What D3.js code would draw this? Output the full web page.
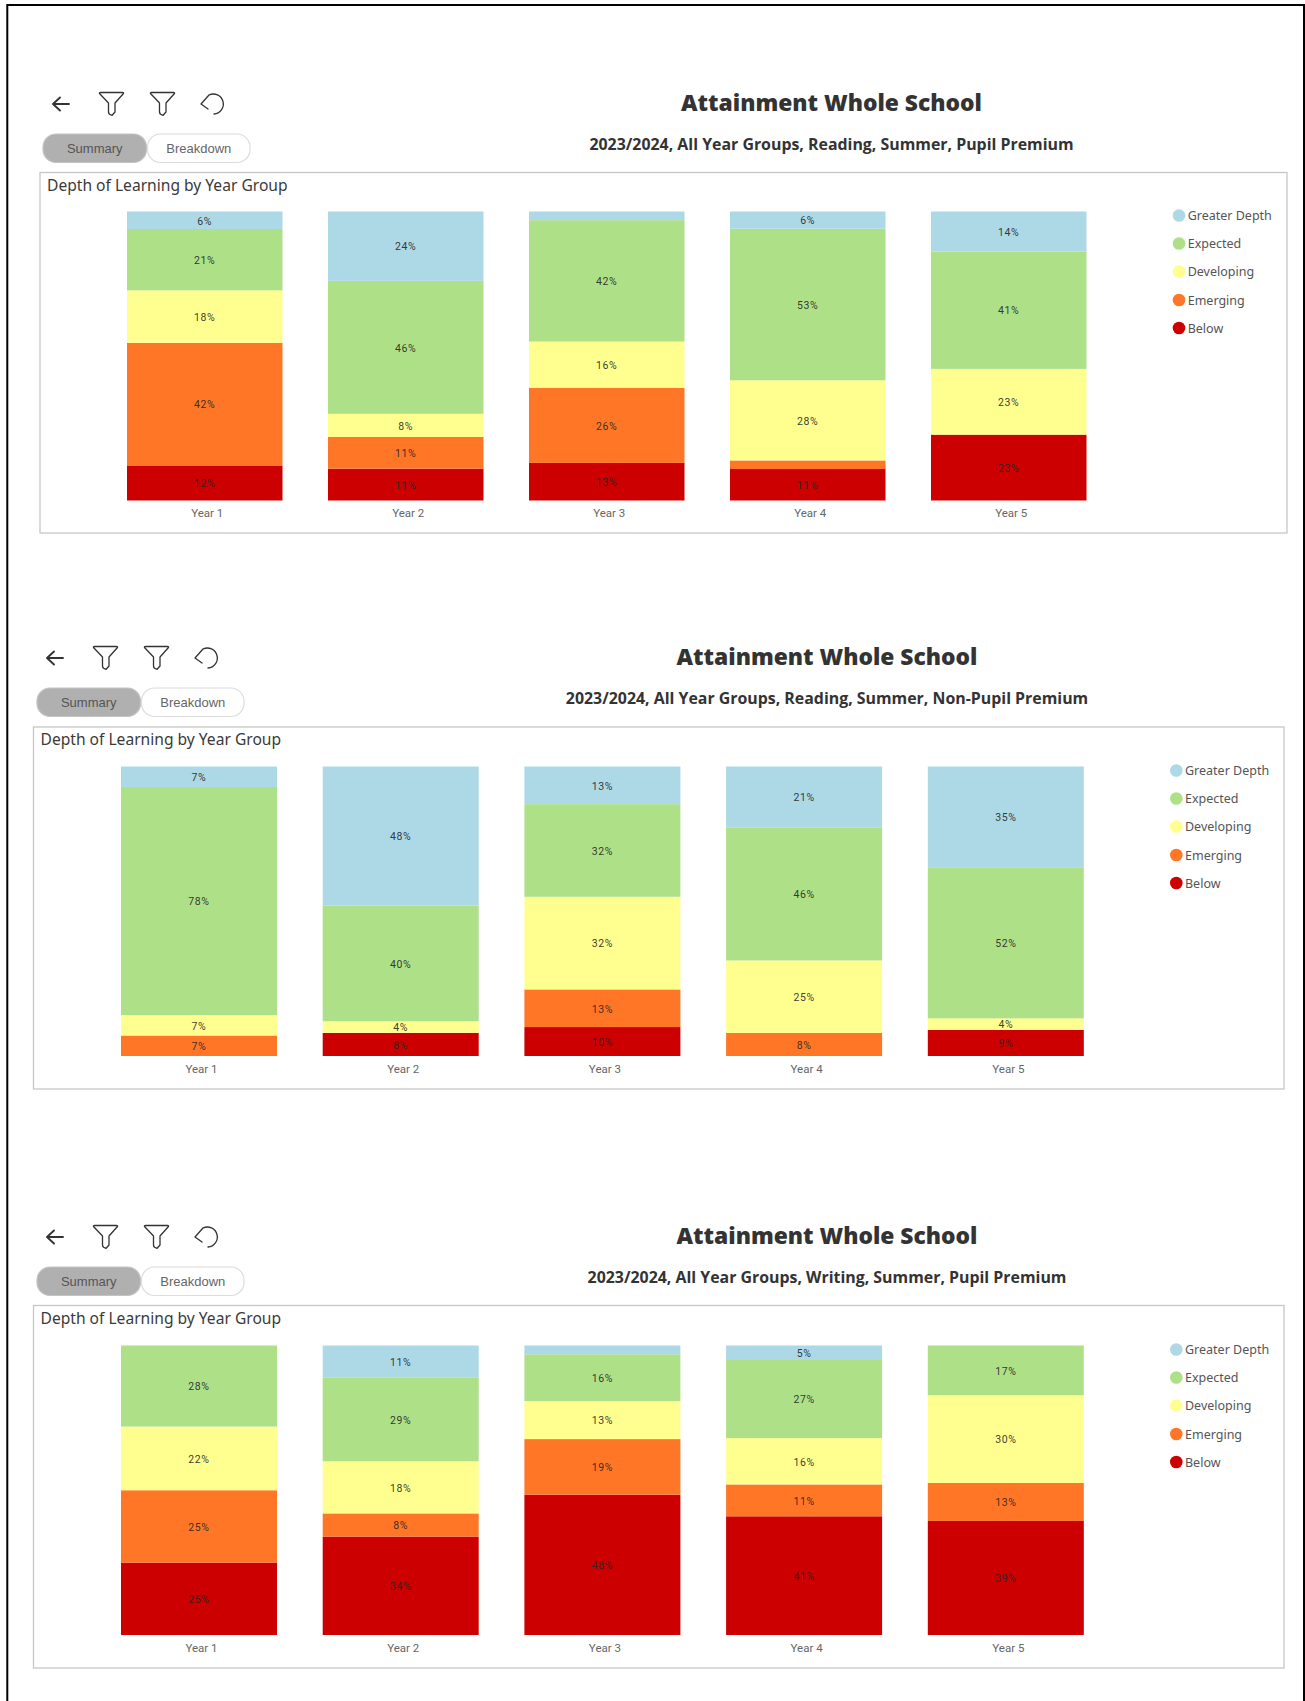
<!DOCTYPE html>
<html lang="en">
<head>
<meta charset="utf-8">
<title>Attainment Whole School</title>
<script src="https://cdn.jsdelivr.net/npm/d3@7"></script>
<style>
  html, body { margin: 0; padding: 0; background: #fff; }
  svg { display: block; }
  .axis path, .axis line { display: none; }
</style>
</head>
<body>
<div id="report"></div>
<script>
// Shared categories and levels
const yearGroups = ["Year 1", "Year 2", "Year 3", "Year 4", "Year 5"];
const levels = ["Greater Depth", "Expected", "Developing", "Emerging", "Below"];
const levelColours = ["#ADD8E6", "#AEE088", "#FFFF8F", "#FF7726", "#CC0000"];

// Percentages per level, one entry per year group
const readingPupilPremium = {
  "Greater Depth": [6, 24, 3, 6, 14],
  "Expected": [21, 46, 42, 53, 41],
  "Developing": [18, 8, 16, 28, 23],
  "Emerging": [42, 11, 26, 3, 0],
  "Below": [12, 11, 13, 11, 23]
};
const readingNonPupilPremium = {
  "Greater Depth": [7, 48, 13, 21, 35],
  "Expected": [78, 40, 32, 46, 52],
  "Developing": [7, 4, 32, 25, 4],
  "Emerging": [7, 0, 13, 8, 0],
  "Below": [0, 8, 10, 0, 9]
};
const writingPupilPremium = {
  "Greater Depth": [0, 11, 3, 5, 0],
  "Expected": [28, 29, 16, 27, 17],
  "Developing": [22, 18, 13, 16, 30],
  "Emerging": [25, 8, 19, 11, 13],
  "Below": [25, 34, 48, 41, 39]
};

const reportTitle = "Attainment Whole School";
const chartTitle = "Depth of Learning by Year Group";
const subtitles = [
  "2023/2024, All Year Groups, Reading, Summer, Pupil Premium",
  "2023/2024, All Year Groups, Reading, Summer, Non-Pupil Premium",
  "2023/2024, All Year Groups, Writing, Summer, Pupil Premium"
];
const tabLabels = ["Summary", "Breakdown"];
const smallestLabelled = 4;

// Page layout of each report section
const sections = [
  { rows: readingPupilPremium, frame: [40, 172.5, 1287, 533], barLeft: 127, barTop: 211.5, barHeight: 289, barSpan: 959.5, barGap: 45.5 / 201, centre: 831.5, originY: 0, dx: 6, legendX: 1179 },
  { rows: readingNonPupilPremium, frame: [33.5, 727, 1284, 1089], barLeft: 121, barTop: 766.5, barHeight: 289.5, barSpan: 962.8, barGap: 45.7 / 201.7, centre: 827, originY: 554, dx: 0, legendX: 1176.3 },
  { rows: writingPupilPremium, frame: [33.5, 1305.5, 1284, 1668], barLeft: 121, barTop: 1345.5, barHeight: 289.5, barSpan: 962.8, barGap: 45.7 / 201.7, centre: 827, originY: 1133, dx: 0, legendX: 1176.3 }
];
const legendOffsets = [4, 32, 60, 88.5, 116.5];

const svg = d3.select("#report").append("svg").attr("width", 1305).attr("height", 1701);

// Dialog edge running along the top and both sides
svg.append("path")
  .attr("d", "M7.3,1701V5H1304V1701")
  .attr("fill", "none").attr("stroke", "#000").attr("stroke-width", 2);

const funnelPath = "M-12,1Q-12.4,0,-11,0L11,0Q12.4,0,12,1L3.5,10.5L3.5,19.5L0.6,22.8Q-3,22,-3,19.5L-3,10.5Z";
const arrowPath = "M-8,0H8M-8,0L-1,-6.5M-8,0L-1,6.5";
const resetPath = "M-3,-9A10,10,0,1,1,2,10M-3,-9L-11,0L-4,5";

function drawSection(sec, index) {
  const g = svg.append("g");
  const oy = sec.originY, dx = sec.dx;

  // Toolbar
  const icon = (d, x, y, width) => g.append("path")
    .attr("d", d).attr("transform", `translate(${x + dx},${y + oy})`)
    .attr("fill", "none").attr("stroke", "#333").attr("stroke-width", width)
    .attr("stroke-linejoin", "round").attr("stroke-linecap", "round");
  icon(arrowPath, 55, 104, 1.9);
  icon(funnelPath, 105.5, 92.5, 1.3);
  icon(funnelPath, 156.5, 92.5, 1.3);
  icon(resetPath, 206, 104, 1.3);

  // Summary / Breakdown toggle
  const tabY = 134 + oy;
  const tabs = [
    { x: 37 + dx, w: 103.5, fill: "#B0B0B0", stroke: "#C4C4C4", text: "#555" },
    { x: 141.5 + dx, w: 102.5, fill: "#fff", stroke: "#DCDCDC", text: "#666" }
  ];
  tabs.forEach((t, i) => {
    g.append("rect").attr("x", t.x).attr("y", tabY).attr("width", t.w).attr("height", 28.5)
      .attr("rx", 13).attr("fill", t.fill).attr("stroke", t.stroke).attr("stroke-width", 1.2);
    g.append("text").attr("x", t.x + t.w / 2).attr("y", tabY + 19)
      .attr("text-anchor", "middle").attr("font-family", "Liberation Sans")
      .attr("font-size", 13).attr("fill", t.text).text(tabLabels[i]);
  });

  // Headings
  g.append("text").attr("x", sec.centre).attr("y", 110.7 + oy)
    .attr("text-anchor", "middle").attr("font-family", "Open Sans").attr("font-weight", 800)
    .attr("font-size", 22.8).attr("fill", "#333").text(reportTitle);
  g.append("text").attr("x", sec.centre).attr("y", 149.8 + oy)
    .attr("text-anchor", "middle").attr("font-family", "Open Sans").attr("font-weight", 700)
    .attr("font-size", 15.9).attr("fill", "#333").text(subtitles[index]);

  // Chart frame and title
  const [x0, y0, x1, y1] = sec.frame;
  g.append("rect").attr("x", x0).attr("y", y0).attr("width", x1 - x0).attr("height", y1 - y0)
    .attr("fill", "#fff").attr("stroke", "#C6C6C6").attr("stroke-width", 1.3);
  g.append("text").attr("x", x0 + 7).attr("y", y0 + 18)
    .attr("font-family", "Noto Sans").attr("font-size", 15.6).attr("fill", "#3a3a3a").text(chartTitle);

  // 100% stacked bars; the stack runs bottom-up, from Below to Greater Depth
  const rows = yearGroups.map((year, i) => {
    const row = { year };
    levels.forEach(level => { row[level] = sec.rows[level][i]; });
    return row;
  });
  const stacked = d3.stack().keys(levels.slice().reverse()).offset(d3.stackOffsetExpand)(rows);

  const x = d3.scaleBand().domain(yearGroups)
    .range([sec.barLeft, sec.barLeft + sec.barSpan]).paddingInner(sec.barGap).paddingOuter(0);
  const y = d3.scaleLinear().domain([0, 1]).range([sec.barTop + sec.barHeight, sec.barTop]);
  const colour = d3.scaleOrdinal().domain(levels).range(levelColours);

  const layers = g.selectAll(".layer").data(stacked).join("g").attr("class", "layer")
    .attr("fill", d => colour(d.key));
  layers.selectAll("rect").data(d => d).join("rect")
    .attr("x", d => x(d.data.year))
    .attr("y", d => y(d[1]))
    .attr("width", x.bandwidth())
    .attr("height", d => y(d[0]) - y(d[1]));

  // Value labels, omitted on the thinnest segments
  stacked.forEach(layer => {
    g.selectAll(null).data(layer.filter(d => d.data[layer.key] >= smallestLabelled)).join("text")
      .attr("x", d => x(d.data.year) + x.bandwidth() / 2)
      .attr("y", d => (y(d[0]) + y(d[1])) / 2 + 0.6)
      .attr("dy", "0.35em").attr("text-anchor", "middle")
      .attr("font-family", "Roboto").attr("font-size", 10.5).attr("letter-spacing", 0.6)
      .attr("fill", "#252423").attr("fill-opacity", 0.9)
      .text(d => d.data[layer.key] + "%");
  });

  // Year group axis
  const axis = g.append("g").attr("class", "axis")
    .attr("transform", `translate(2.5,${sec.barTop + sec.barHeight})`)
    .call(d3.axisBottom(x).tickSize(0).tickPadding(8.5));
  axis.selectAll("text").attr("font-family", "Roboto").attr("font-size", 11.5).attr("fill", "#666");

  // Legend
  const legend = g.selectAll(".legend").data(levels).join("g").attr("class", "legend")
    .attr("transform", (d, i) => `translate(${sec.legendX},${sec.barTop + legendOffsets[i]})`);
  legend.append("circle").attr("r", 6.3).attr("fill", d => colour(d));
  legend.append("text").attr("x", 8.7).attr("y", 0.3).attr("dy", "0.35em")
    .attr("font-family", "Noto Sans").attr("font-size", 12.5).attr("fill", "#555").text(d => d);
}

sections.forEach(drawSection);
</script>
</body>
</html>
